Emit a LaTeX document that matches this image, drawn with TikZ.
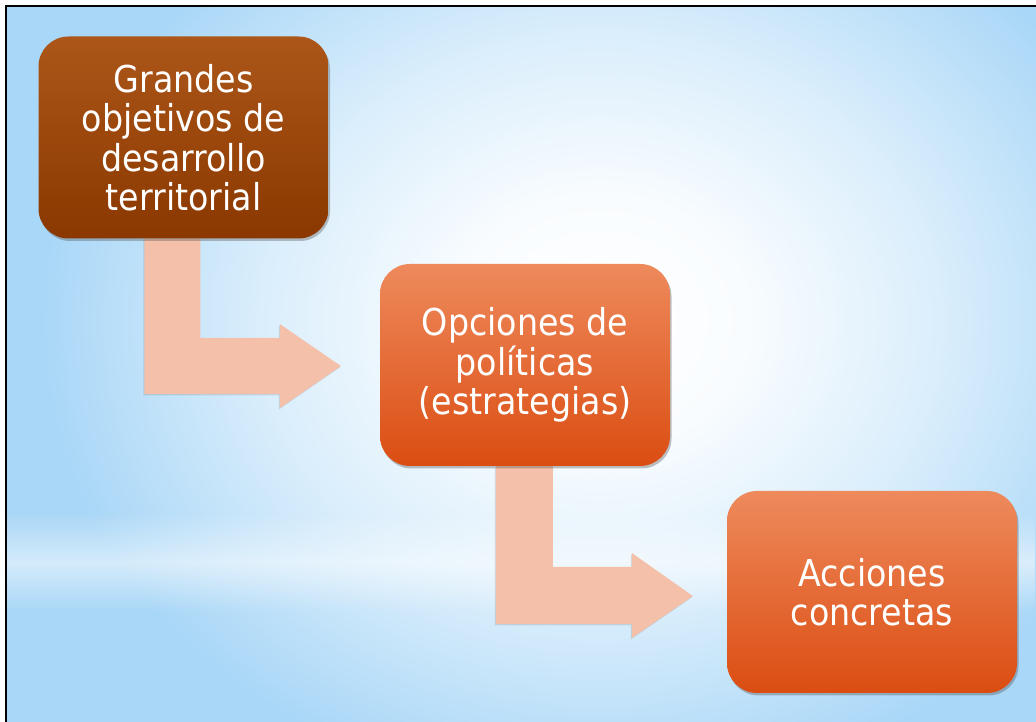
\documentclass[tikz,border=0pt]{standalone}
\usepackage{fontspec}
\setmainfont{DejaVu Sans Condensed}
\usetikzlibrary{calc,shadows,fadings}
\definecolor{bgblue}{HTML}{A9D7F7}
\definecolor{brownTop}{HTML}{AC5619}
\definecolor{brownBot}{HTML}{8A3800}
\definecolor{orTop}{HTML}{EE8A5C}
\definecolor{orBot}{HTML}{DB4D12}
\definecolor{arrowfill}{HTML}{F4C0AA}
\tikzfading[name=bandfade, top color=transparent!100, bottom color=transparent!100, middle color=transparent!0]
\pgfdeclareradialshading{glow}{\pgfpoint{0bp}{0bp}}{color(0bp)=(white); color(4.5bp)=(white!93!bgblue); color(10.5bp)=(white!58!bgblue); color(17.5bp)=(bgblue); color(50bp)=(bgblue)}
\pgfdeclarelayer{bglayer}
\pgfdeclarelayer{midlayer}
\pgfsetlayers{bglayer,midlayer,main}
\begin{document}
\begin{tikzpicture}[x=1pt,y=1pt,
  stepbox/.style={rectangle, rounded corners=30pt, minimum width=290pt, minimum height=202pt,
    text=white, align=center, font=\fontsize{37}{39.5}\selectfont, inner sep=0pt,
    drop shadow={shadow xshift=1.5pt, shadow yshift=-2.5pt, opacity=0.35, fill=black!70}},
  brownbox/.style={stepbox, top color=brownTop, bottom color=brownBot},
  orangebox/.style={stepbox, top color=orTop, bottom color=orBot},
  bentarrow/.style={fill=arrowfill, drop shadow={shadow xshift=-1pt, shadow yshift=-1.5pt, opacity=0.2, fill=black!60}}
]
\useasboundingbox (0,0) rectangle (1036,722);

\begin{pgfonlayer}{bglayer}
  \fill[white] (0,0) rectangle (1036,722);
  \begin{scope}
    \clip (6,0) rectangle (1036,716);
    \fill[bgblue] (6,0) rectangle (1036,716);
    \shade[shading=glow] (-200,-280) rectangle (1400,1080);
    \fill[white, opacity=0.5, path fading=bandfade] (6,110) rectangle (1036,210);
  \end{scope}
  \draw[black, line width=2.5pt] (6,0) -- (6,716) -- (1036,716);
\end{pgfonlayer}

\node[brownbox] (b1) at (183.5,584.5) {Grandes\\objetivos de\\desarrollo\\territorial};
\node[orangebox] (b2) at (525,357) {Opciones de\\políticas\\(estrategias)};
\node[orangebox] (b3) at (872,130) {Acciones\\concretas};

\begin{pgfonlayer}{midlayer}
  \fill[bentarrow] let \p1=($(b1.south west)+(106,0)$), \p2=($(b2.west)+(-39,-1)$) in
    (\x1,\y1) -- (\x1+56,\y1) -- (\x1+56,\y2+28) -- (\x2-61,\y2+28) -- (\x2-61,\y2+42)
    -- (\x2,\y2) -- (\x2-61,\y2-42) -- (\x2-61,\y2-28) -- (\x1,\y2-28) -- cycle;
  \fill[bentarrow] let \p1=($(b2.south west)+(116,0)$), \p2=($(b3.west)+(-34,-4)$) in
    (\x1,\y1) -- (\x1+57,\y1) -- (\x1+57,\y2+29) -- (\x2-61,\y2+29) -- (\x2-61,\y2+43)
    -- (\x2,\y2) -- (\x2-61,\y2-42) -- (\x2-61,\y2-28) -- (\x1,\y2-28) -- cycle;
\end{pgfonlayer}
\end{tikzpicture}
\end{document}
